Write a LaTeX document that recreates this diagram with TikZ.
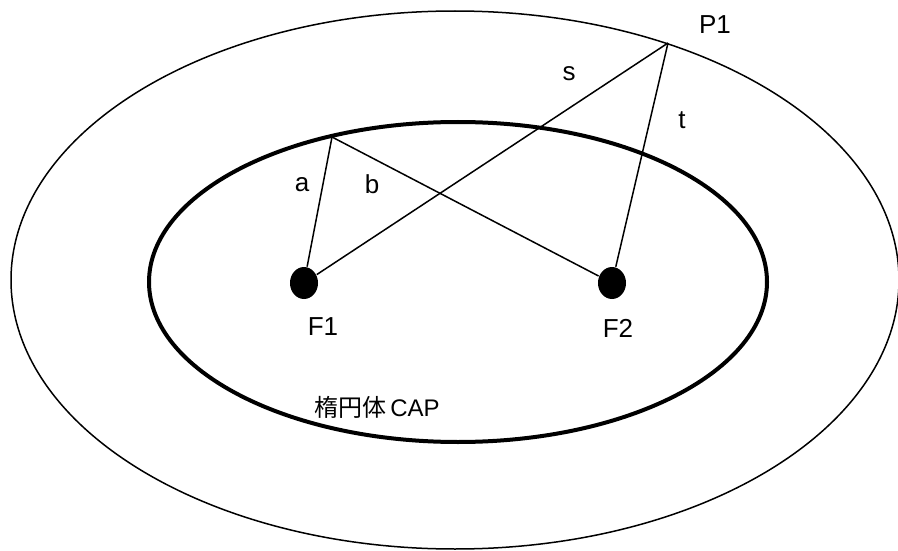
\documentclass[tikz,border=0pt]{standalone}
\usepackage{fontspec}
\setmainfont{Liberation Sans}
\newfontfamily\jpfont{Noto Sans CJK JP}
\usetikzlibrary{shapes.geometric}
\tikzset{
  every picture/.style={line width=1.5pt, font=\fontsize{26}{30}\selectfont},
  shell/.style={draw, line width=1.5pt},
  capline/.style={draw, line width=4pt},
  focus/.style={ellipse, fill=black, inner sep=0pt, minimum width=28pt, minimum height=32pt},
  ray/.style={line width=1.5pt},
  lbl/.style={inner sep=0pt},
}

\begin{document}
\begin{tikzpicture}[x=1pt, y=-1pt]
  \useasboundingbox (0,0) rectangle (898,551);
  % ellipses
  \draw[shell] (455,280) ellipse [x radius=444, y radius=269];
  \draw[capline] (458,282) ellipse [x radius=309, y radius=160];
  % foci and points on the ellipses
  \node[focus] (f1) at (304,283) {};
  \node[focus] (f2) at (612,283) {};
  \coordinate (q) at (332,137);
  \coordinate (p1) at (668,43);
  \draw[ray] (q) -- (f1);
  \draw[ray] (q) -- (f2);
  \draw[ray] (p1) -- (f1);
  \draw[ray] (p1) -- (f2);
  % labels
  \node[lbl] (la) at (302,185) {a};
  \node[lbl] (lb) at (372,184) {b};
  \node[lbl] (ls) at (569,74) {s};
  \node[lbl] (lt) at (682,120) {t};
  \node[lbl] (lp1) at (715,25) {P1};
  \node[lbl] (lf1) at (323,327) {F1};
  \node[lbl] (lf2) at (618,328) {F2};
  \node[lbl, font=\fontsize{24}{28}\selectfont] (lcap) at (377,407) {{\jpfont 楕円体}\,CAP};
\end{tikzpicture}
\end{document}
